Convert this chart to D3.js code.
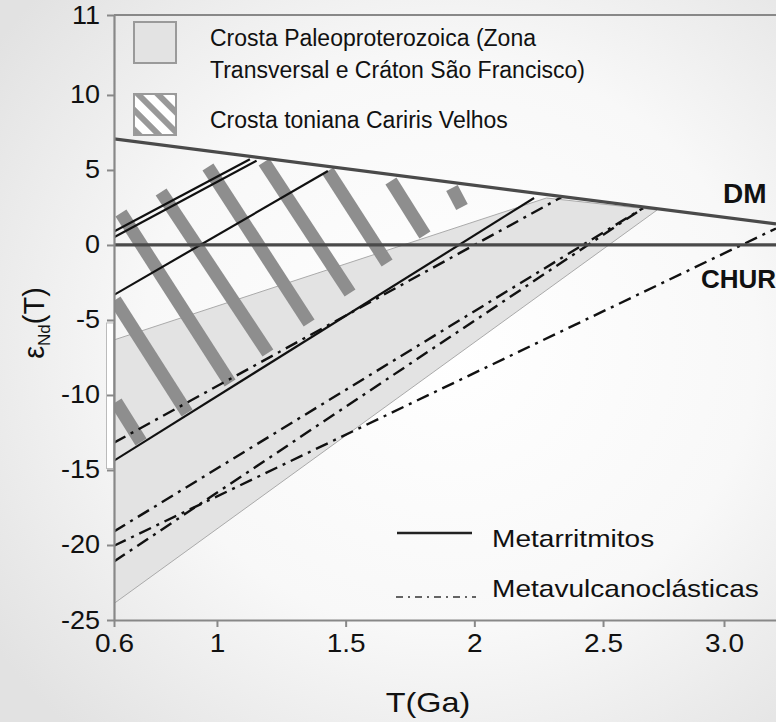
<!DOCTYPE html>
<html>
<head>
<meta charset="utf-8">
<script src="https://cdn.jsdelivr.net/npm/d3@7"></script>
<style>
  body { margin: 0; background: #fff; }
  svg { display: block; font-family: "Liberation Sans", Arial, sans-serif; }
</style>
</head>
<body>
<div id="chart"></div>
<script>
const W = 776, H = 722;

// axis ticks as printed on the figure
const xTicks = [0.6, 1, 1.5, 2, 2.5, 2.97];
const xTickLabels = ["0.6", "1", "1.5", "2", "2.5", "3.0"];
const yTicks = [-25, -20, -15, -10, -5, 0, 5, 10, 15.33];
const yTickLabels = ["-25", "-20", "-15", "-10", "-5", "0", "5", "10", "11"];

// reference evolution lines  [T (Ga), eNd(T)]
const dm = [[0.6, 7.07], [3.172, 1.4]];
const chur = [[0.6, 0], [3.172, 0]];

// Paleoproterozoic crust field (Zona Transversal / Craton Sao Francisco)
const paleoField = [[0.6, -6.33], [2.28, 3.13], [2.71, 2.33], [0.6, -23.9]];

// Cariris Velhos tonian crust, hatch bars [top, bottom]
const tonianBars = [
  [[0.608, -10.47], [0.705, -13.13]],
  [[0.604, -3.67], [0.884, -11.2]],
  [[0.627, 2.13], [1.051, -9.2]],
  [[0.783, 3.53], [1.198, -7.2]],
  [[0.965, 5.2], [1.358, -5.2]],
  [[1.183, 5.53], [1.517, -3.2]],
  [[1.431, 4.93], [1.661, -1.2]],
  [[1.676, 4.27], [1.808, 0.67]],
  [[1.913, 3.8], [1.952, 2.53]]
];

// samples
const metarritmitos = [
  [[0.6, 0.89], [1.128, 5.71]],
  [[0.6, 0.51], [1.154, 5.62]],
  [[0.6, -3.33], [1.431, 4.93]],
  [[0.6, -14.38], [2.232, 3.13]]
];
const metavulcanoclasticas = [
  [[0.6, -13.18], [2.34, 3.2]],
  [[0.6, -19.1], [2.655, 2.45]],
  [[0.6, -21.1], [2.655, 2.45]],
  [[0.6, -20.05], [3.172, 1.1]]
];

const x = d3.scaleLinear().domain([0.6, 3.172]).range([114, 776]);
const y = d3.scaleLinear().domain([-25, 15.33]).range([620, 15]);

const svg = d3.select("#chart").append("svg")
  .attr("width", W)
  .attr("height", H);

const defs = svg.append("defs");
const bg = defs.append("radialGradient").attr("id", "bg")
  .attr("cx", "58%").attr("cy", "48%").attr("r", "72%");
bg.append("stop").attr("offset", "0%").attr("stop-color", "#ffffff");
bg.append("stop").attr("offset", "55%").attr("stop-color", "#f8f8f8");
bg.append("stop").attr("offset", "100%").attr("stop-color", "#e2e2e2");

defs.append("clipPath").attr("id", "plot")
  .append("rect").attr("x", 114).attr("y", 15).attr("width", W - 114).attr("height", 605);

const hatch = defs.append("pattern").attr("id", "hatch")
  .attr("patternUnits", "userSpaceOnUse")
  .attr("width", 14).attr("height", 14)
  .attr("patternTransform", "rotate(-45)");
hatch.append("rect").attr("width", 14).attr("height", 14).attr("fill", "#fff");
hatch.append("rect").attr("width", 6).attr("height", 14).attr("fill", "#999");

svg.append("rect").attr("width", W).attr("height", H).attr("fill", "url(#bg)");

const line = d3.line().x(d => x(d[0])).y(d => y(d[1]));

const g = svg.append("g").attr("clip-path", "url(#plot)");

g.append("path")
  .attr("d", line(paleoField) + "Z")
  .attr("fill", "#e3e3e3")
  .attr("stroke", "#aaa")
  .attr("stroke-width", 1);

g.selectAll(".bar")
  .data(tonianBars)
  .enter()
  .append("path")
  .attr("d", line)
  .attr("stroke", "#8e8e8e")
  .attr("stroke-width", 13)
  .attr("stroke-linecap", "butt")
  .attr("fill", "none");

g.selectAll(".vulc")
  .data(metavulcanoclasticas)
  .enter()
  .append("path")
  .attr("d", line)
  .attr("fill", "none")
  .attr("stroke", "#111")
  .attr("stroke-width", 2.4)
  .attr("stroke-dasharray", "13,6,3,6");

g.selectAll(".metar")
  .data(metarritmitos)
  .enter()
  .append("path")
  .attr("d", line)
  .attr("fill", "none")
  .attr("stroke", "#111")
  .attr("stroke-width", 2.2);

[dm, chur].forEach(ref => {
  g.append("path")
    .attr("d", line(ref))
    .attr("fill", "none")
    .attr("stroke", "#4a4a4a")
    .attr("stroke-width", 3.2);
});

// leftover box beside the y axis in the original figure
svg.append("rect")
  .attr("x", 106.5).attr("y", y(-5.2))
  .attr("width", 7).attr("height", y(-14.9) - y(-5.2))
  .attr("fill", "#fff").attr("stroke", "#bbb").attr("stroke-width", 1);

// axes
const xAxis = svg.append("g")
  .attr("transform", "translate(0,620)")
  .call(d3.axisBottom(x).tickValues(xTicks).tickFormat((d, i) => xTickLabels[i]).tickSize(7).tickSizeOuter(0));
const yAxis = svg.append("g")
  .attr("transform", "translate(114,0)")
  .call(d3.axisLeft(y).tickValues(yTicks).tickFormat((d, i) => yTickLabels[i]).tickSize(7).tickSizeOuter(0));

[xAxis, yAxis].forEach(a => {
  a.select(".domain").attr("stroke", "#888").attr("stroke-width", 2.2);
  a.selectAll(".tick line").attr("stroke", "#888").attr("stroke-width", 2);
  a.selectAll("text")
    .attr("fill", "#111")
    .style("font-size", "25px")
    .style("font-family", "'Liberation Sans', Arial, sans-serif");
});
xAxis.selectAll("text").attr("dy", "0.9em").attr("transform", "scale(1.12,1)");
yAxis.selectAll("text").attr("x", -13).attr("transform", "scale(1.08,1)");

// top frame line
svg.append("line")
  .attr("x1", 114).attr("x2", W).attr("y1", 15).attr("y2", 15)
  .attr("stroke", "#888").attr("stroke-width", 2);

// axis titles
svg.append("text")
  .attr("transform", "translate(44,323) rotate(-90)")
  .attr("text-anchor", "middle")
  .style("font-size", "29px")
  .attr("fill", "#111")
  .call(t => {
    t.append("tspan").text("ε");
    t.append("tspan").attr("dy", 6).style("font-size", "17px").text("Nd");
    t.append("tspan").attr("dy", -6).text("(T)");
  });

svg.append("text")
  .attr("transform", "translate(428,712) scale(1.2,1)")
  .attr("text-anchor", "middle")
  .style("font-size", "27px")
  .attr("fill", "#111")
  .text("T(Ga)");

// curve labels
svg.append("text")
  .attr("x", 723).attr("y", 203)
  .style("font-size", "28px").style("font-weight", "bold")
  .attr("fill", "#111")
  .text("DM");
svg.append("text")
  .attr("x", 701).attr("y", 288)
  .style("font-size", "26px").style("font-weight", "bold")
  .attr("fill", "#111")
  .text("CHUR");

// top legend
const leg = svg.append("g");
leg.append("rect")
  .attr("x", 134).attr("y", 22).attr("width", 42).attr("height", 41)
  .attr("fill", "#e3e3e3").attr("stroke", "#9a9a9a").attr("stroke-width", 2);
leg.append("rect")
  .attr("x", 134).attr("y", 94).attr("width", 42).attr("height", 41)
  .attr("fill", "url(#hatch)").attr("stroke", "#9a9a9a").attr("stroke-width", 2);
const legText = [
  ["Crosta Paleoproterozoica (Zona", 46],
  ["Transversal e Cráton São Francisco)", 78],
  ["Crosta toniana Cariris Velhos", 128]
];
leg.selectAll(".lt")
  .data(legText)
  .enter()
  .append("text")
  .attr("x", 210)
  .attr("y", d => d[1])
  .style("font-size", "23px")
  .attr("fill", "#111")
  .text(d => d[0]);

// bottom legend
const leg2 = svg.append("g");
leg2.append("line")
  .attr("x1", 397).attr("x2", 472).attr("y1", 533).attr("y2", 533)
  .attr("stroke", "#222").attr("stroke-width", 2.5);
leg2.append("line")
  .attr("x1", 396).attr("x2", 476).attr("y1", 597).attr("y2", 597)
  .attr("stroke", "#333").attr("stroke-width", 1.5)
  .attr("stroke-dasharray", "7,5,2,5");
leg2.append("text")
  .attr("transform", "translate(492,547) scale(1.17,1)")
  .style("font-size", "24px").attr("fill", "#111")
  .text("Metarritmitos");
leg2.append("text")
  .attr("transform", "translate(492,597) scale(1.17,1)")
  .style("font-size", "24px").attr("fill", "#111")
  .text("Metavulcanoclásticas");
</script>
</body>
</html>
